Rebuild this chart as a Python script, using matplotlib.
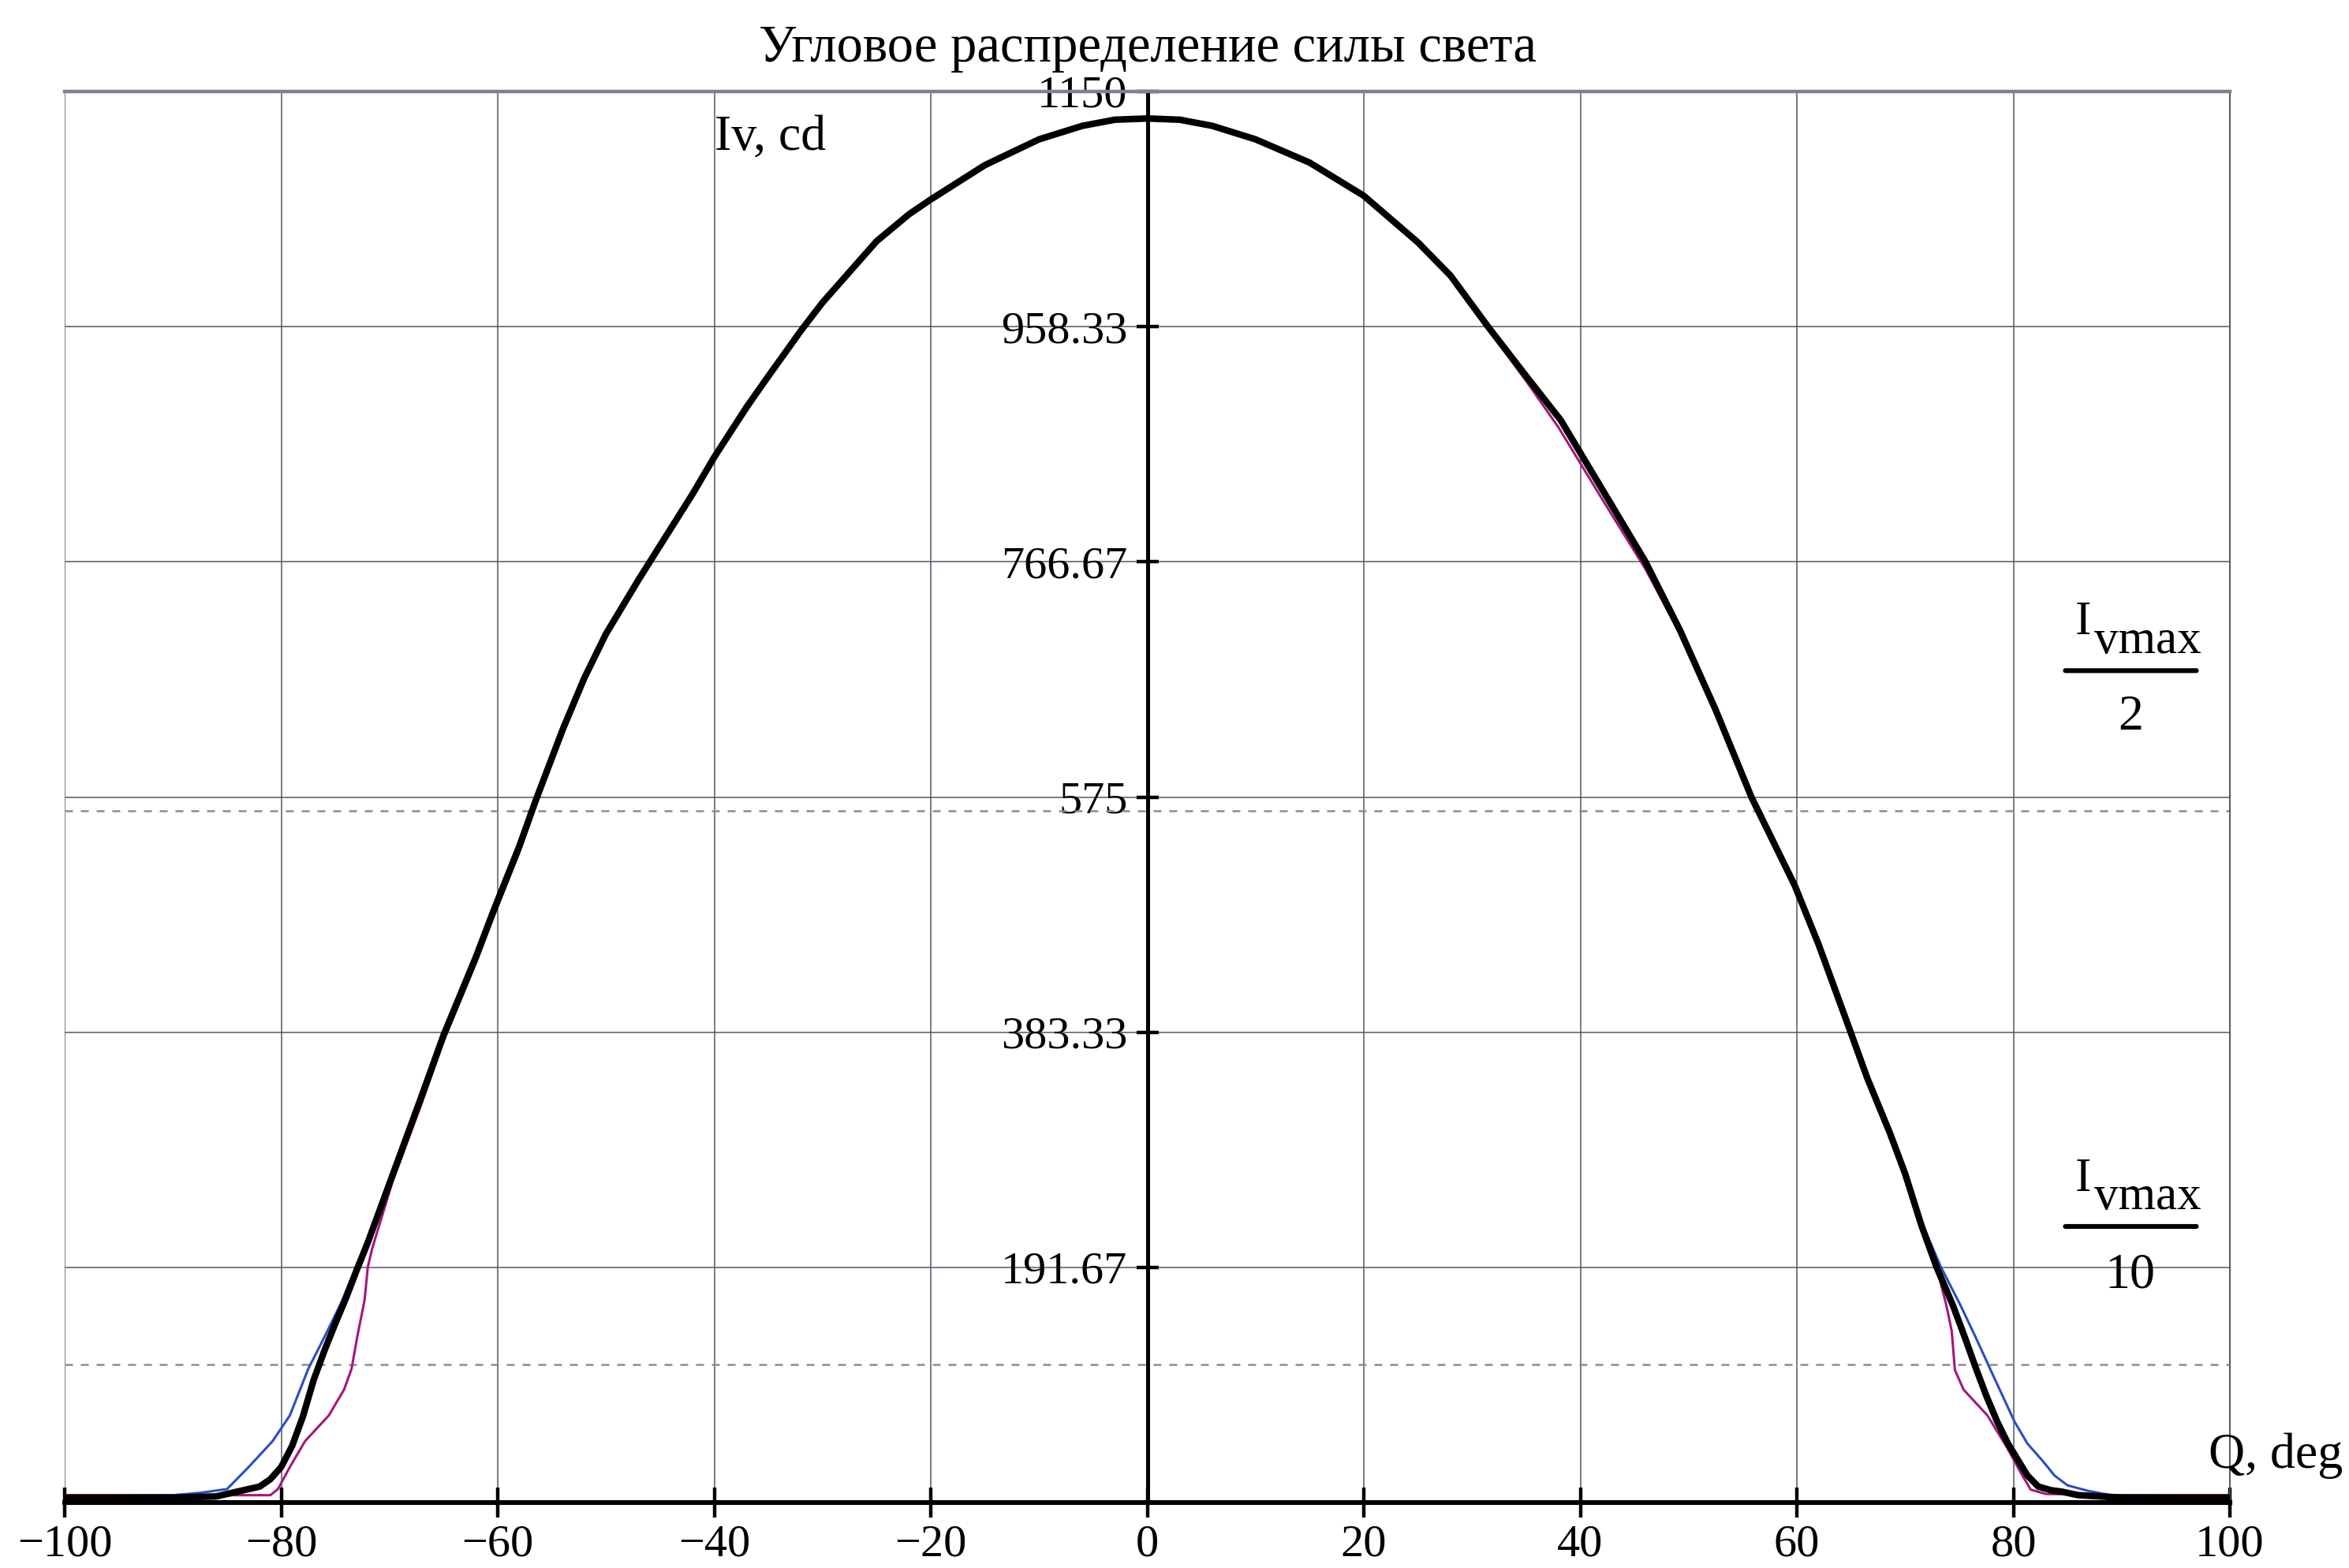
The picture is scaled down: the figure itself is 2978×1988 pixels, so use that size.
import matplotlib
matplotlib.use('Agg')
import matplotlib.pyplot as plt

plt.rcParams['font.family'] = ['Liberation Serif', 'DejaVu Serif']

# ---------------- data ----------------
title = 'Угловое распределение силы света'
y_label = 'Iv, cd'
x_label = 'Q, deg'

x_ticks = [-100, -80, -60, -40, -20, 0, 20, 40, 60, 80, 100]
x_tick_labels = ['\u2212100', '\u221280', '\u221260', '\u221240', '\u221220', '0',
                 '20', '40', '60', '80', '100']
y_ticks = [191.67, 383.33, 575, 766.67, 958.33, 1150]
y_tick_labels = ['191.67', '383.33', '575', '766.67', '958.33', '1150']

# black (thick) curve
theta_k = [-100, -90, -86, -85, -84, -83, -82, -81, -80, -79,
           -78, -77, -76, -75, -74, -73, -72, -71, -70, -69,
           -67, -65, -62, -60.4, -58, -56.5, -54, -52, -50, -47,
           -45, -42, -40, -37, -35, -32, -30, -27, -25, -22,
           -20, -15, -10, -6, -3, 0, 3, 6, 10, 15,
           20, 25, 28, 31.5, 35, 38.2, 42, 46, 49.2, 52.5,
           55.8, 59.8, 62, 64.9, 66.5, 68.6, 70, 71.5, 72.9, 74.4,
           75.5, 76.6, 77.5, 78.5, 79.5, 80.4, 81.3, 82.3, 83.5, 84.4,
           86, 90, 100]
I_k = [4, 4, 5, 7, 9, 11, 13, 19, 29, 46,
       70, 100, 124, 146, 167, 190, 212, 236, 260, 284,
       332, 381, 445, 482, 535, 572, 630, 672, 708, 752,
       780, 822, 852, 893, 918, 955, 978, 1008, 1028, 1050,
       1062, 1090, 1111, 1122, 1127, 1128, 1127, 1122, 1111, 1092,
       1065, 1027, 1000, 958, 918, 882, 826, 767, 711, 646,
       575, 503, 455, 385, 346, 301, 268, 226, 192, 161,
       135, 108, 87, 66, 48, 35, 22, 13, 10, 9,
       6, 4, 4]

# blue curve
theta_b = [-100, -90, -87.4, -85, -83, -80.8, -79.2, -77.5, -76, -74.5,
           -73.1, -71, -69, -67, -65, -62, -60.4, -58, -56.5, -54,
           -52, -50, -47, -45, -42, -40, -37, -35, -32, -30,
           -27, -25, -22, -20, -15, -10, -6, -3, 0, 3,
           6, 10, 15, 20, 25, 28, 31.5, 35, 38.2, 42,
           46, 49.2, 52.5, 55.8, 59.8, 62, 64.9, 66.5, 68.6, 70,
           71.5, 73.3, 75.1, 76.5, 77.9, 79, 80.1, 81.3, 82.6, 83.8,
           85, 86.9, 89, 100]
I_b = [5, 6, 8, 11, 29, 50, 71, 109, 135, 162,
       192, 236, 284, 332, 381, 445, 482, 535, 572, 630,
       672, 708, 752, 780, 822, 852, 893, 918, 955, 978,
       1008, 1028, 1050, 1062, 1090, 1111, 1122, 1127, 1128, 1127,
       1122, 1111, 1092, 1065, 1027, 1000, 958, 918, 882, 826,
       767, 711, 646, 575, 505, 457, 387, 348, 303, 270,
       229, 192, 161, 135, 108, 87, 66, 48, 35, 22,
       14, 9.5, 6, 5]

# magenta curve
theta_m = [-100, -90, -81, -80.3, -79.2, -77.8, -75.6, -74.2, -73.5, -73.0,
           -72.3, -72.0, -71.6, -69.7, -67, -65, -62, -60.4, -58, -56.5,
           -54, -52, -50, -45, -40, -35, -30, -25, -20, -15,
           -10, -6, -3, 0, 3, 6, 10, 15, 20, 25,
           28, 31.5, 35, 38, 42, 46, 49.2, 52.5, 55.8, 59.8,
           62, 64.9, 68.6, 71.5, 72.9, 73.8, 74.3, 74.6, 75.4, 77.6,
           79.4, 80.7, 81.6, 83, 90, 100]
I_m = [6, 6, 6, 11, 29, 50, 71, 92, 109, 134,
       165, 192, 207, 262, 326, 376, 440, 477, 530, 568,
       626, 670, 706, 778, 850, 916, 978, 1028, 1062, 1090,
       1111, 1122, 1127, 1128, 1127, 1122, 1111, 1092, 1065, 1027,
       999, 956, 914, 876, 818, 761, 708, 646, 575, 503,
       455, 385, 301, 223, 192, 161, 140, 108, 92, 71,
       45, 24, 10.5, 7, 6, 6]

# labels of the two reference levels
half_label = ('I', 'vmax', '2')
tenth_label = ('I', 'vmax', '10')

# ---------------- figure ----------------
fig = plt.figure(figsize=(14.89, 9.94), dpi=200)
ax = fig.add_axes([0.02754, 0.04175, 0.92176, 0.8999])
ax.set_xlim(-100, 100)
ax.set_ylim(0, 1150)

grid_color = '#555566'
ax.set_xticks(x_ticks)
ax.set_xticklabels(x_tick_labels)
ax.set_yticks(y_ticks)
ax.set_yticklabels(y_tick_labels)
ax.grid(True, color=grid_color, lw=0.55, zorder=0)
ax.set_axisbelow(True)

ax.spines['left'].set_position(('data', 0))
ax.spines['left'].set_linewidth(1.8)
ax.spines['left'].set_color('black')
ax.spines['bottom'].set_linewidth(2.2)
ax.spines['bottom'].set_color('black')
ax.spines['top'].set_color('#808090')
ax.spines['top'].set_linewidth(1.6)
ax.spines['right'].set_color(grid_color)
ax.spines['right'].set_linewidth(0.7)

ax.tick_params(axis='x', direction='inout', length=14, width=1.6,
               labelsize=21, pad=3, colors='black')
ax.tick_params(axis='y', direction='inout', length=10, width=1.6,
               labelsize=21, pad=4, colors='black')

# curves
ax.plot(theta_m, I_m, color='#a3177e', lw=1.1, zorder=3)
ax.plot(theta_b, I_b, color='#2b4cc4', lw=1.1, zorder=3)
ax.plot(theta_k, I_k, color='black', lw=3.0, zorder=4)

# Ivmax/2 and Ivmax/10 levels
ivmax = max(I_k)
for lvl in (ivmax / 2, ivmax / 10):
    ax.axhline(lvl, color='#8c8c8c', lw=0.9, ls=(0, (4, 4)), zorder=1)

# texts
fig.text(1455 / 2978, 1 - 61 / 1988, title, ha='center', va='center', fontsize=24)
ax.text(-40, 1112, y_label, ha='left', va='center', fontsize=23)
ax.text(98, 38, x_label, ha='left', va='center', fontsize=23, clip_on=False)


def fraction(lbl, y_I, y_sub, y_bar, y_den):
    ax.text(85.7, y_I, lbl[0], ha='left', va='baseline', fontsize=22)
    ax.text(87.5, y_sub, lbl[1], ha='left', va='baseline', fontsize=22)
    ax.annotate('', xy=(96.9, y_bar), xytext=(84.8, y_bar),
                arrowprops=dict(arrowstyle='-', lw=2.2, color='black',
                                shrinkA=0, shrinkB=0))
    ax.text(90.8, y_den, lbl[2], ha='center', va='baseline', fontsize=23)


fraction(half_label, 708, 692, 678, 630)
fraction(tenth_label, 254, 239, 225, 175)

fig.savefig('out.png', dpi=200, facecolor='white')
